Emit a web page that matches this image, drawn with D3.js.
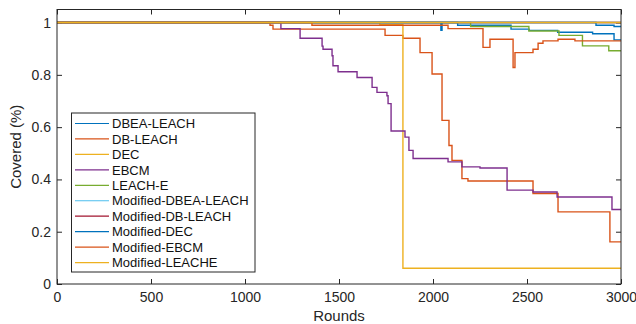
<!DOCTYPE html>
<html>
<head>
<meta charset="utf-8">
<script src="https://cdn.jsdelivr.net/npm/d3@7"></script>
<style>
  body { margin: 0; background: #fff; }
  text { font-family: "Liberation Sans", Arial, sans-serif; }
</style>
</head>
<body>
<div id="graph-container"></div>
<script>
// series: [round, covered] step points
const dbeaLeach = [[0, 1], [2131, 0.99], [2415, 0.975], [2511, 0.97], [2663, 0.963], [2849, 0.957], [2963, 0.934]];
const dbLeach = [[0, 1], [1133, 0.99], [1149, 0.975], [1745, 0.951], [1840, 0.94], [1931, 0.885], [1995, 0.803],
                 [2048, 0.626], [2085, 0.53], [2101, 0.473], [2154, 0.403], [2186, 0.394], [2532, 0.346],
                 [2665, 0.276], [2941, 0.161]];
const dec = [[0, 1], [1717, 0.992], [1840, 0.06]];
const ebcm = [[0, 1], [1191, 0.977], [1293, 0.94], [1410, 0.91], [1415, 0.898], [1463, 0.873], [1468, 0.835],
              [1495, 0.812], [1596, 0.79], [1676, 0.752], [1702, 0.733], [1755, 0.72], [1761, 0.69],
              [1777, 0.585], [1851, 0.562], [1872, 0.511], [1894, 0.48], [2080, 0.467], [2154, 0.448],
              [2250, 0.444], [2394, 0.359], [2532, 0.352], [2660, 0.333], [2952, 0.285]];
const leachE = [[0, 1], [2200, 0.985], [2510, 0.968], [2670, 0.951], [2795, 0.911], [2935, 0.892]];
const modDbeaLeach = [[0, 1]];
const modDbLeach = [[0, 1]];
const modDec = [[0, 1], [2042, 0.97], [2048, 1], [2867, 0.99], [2963, 0.985]];
const modEbcm = [[0, 1], [1356, 0.99], [2080, 0.977], [2266, 0.905], [2303, 0.936], [2426, 0.828], [2436, 0.885],
                 [2532, 0.898], [2559, 0.921], [2585, 0.93], [2665, 0.936], [2755, 0.93]];
const modLeache = [[0, 1]];

const seriesNames = ['DBEA-LEACH', 'DB-LEACH', 'DEC', 'EBCM', 'LEACH-E', 'Modified-DBEA-LEACH',
                     'Modified-DB-LEACH', 'Modified-DEC', 'Modified-EBCM', 'Modified-LEACHE'];
const seriesData = [dbeaLeach, dbLeach, dec, ebcm, leachE, modDbeaLeach, modDbLeach, modDec, modEbcm, modLeache];
const xTicks = [0, 500, 1000, 1500, 2000, 2500, 3000];
const yTicks = [0, 0.2, 0.4, 0.6, 0.8, 1];
const maxRound = 3000;

const colors = ['#0072BD', '#D95319', '#EDB120', '#7E2F8E', '#77AC30',
                '#4DBEEE', '#A2142F', '#0072BD', '#D95319', '#EDB120'];

const width = 636, height = 324;
const plotLeft = 57, plotRight = 621, plotTop = 9.5, plotBottom = 284;

const x = d3.scaleLinear().domain([0, maxRound]).range([plotLeft, plotRight]);
const y = d3.scaleLinear().domain([0, 1.05]).range([plotBottom, plotTop]);

const svg = d3.select('#graph-container')
  .append('svg')
  .attr('width', width)
  .attr('height', height);

const axisColor = '#262626';

// axes (ticks inside, like matlab)
const gx = svg.append('g')
  .attr('transform', `translate(0,${plotBottom})`)
  .call(d3.axisBottom(x).tickValues(xTicks).tickSizeInner(-5).tickSizeOuter(0).tickPadding(8)
    .tickFormat(d3.format('d')));
const gxTop = svg.append('g')
  .attr('transform', `translate(0,${plotTop})`)
  .call(d3.axisTop(x).tickValues(xTicks).tickSizeInner(-5).tickSizeOuter(0).tickFormat(''));
const gy = svg.append('g')
  .attr('transform', `translate(${plotLeft},0)`)
  .call(d3.axisLeft(y).tickValues(yTicks).tickSizeInner(-5).tickSizeOuter(0).tickPadding(6)
    .tickFormat(d => d3.format('')(+d.toFixed(1))));
const gyRight = svg.append('g')
  .attr('transform', `translate(${plotRight},0)`)
  .call(d3.axisRight(y).tickValues(yTicks).tickSizeInner(-5).tickSizeOuter(0).tickFormat(''));

[gx, gxTop, gy, gyRight].forEach(g => {
  g.select('.domain').remove();
  g.selectAll('line').attr('stroke', axisColor);
  g.selectAll('text').attr('fill', axisColor).style('font-size', '14px');
});

// lines
const line = d3.line()
  .x(d => x(d[0]))
  .y(d => y(d[1]))
  .curve(d3.curveStepAfter);

seriesData.forEach((s, i) => {
  const pts = s.concat([[maxRound, s[s.length - 1][1]]]);
  svg.append('path')
    .attr('d', line(pts))
    .attr('fill', 'none')
    .attr('stroke', colors[i])
    .attr('stroke-width', 1.4);
});

// box
svg.append('rect')
  .attr('x', plotLeft).attr('y', plotTop)
  .attr('width', plotRight - plotLeft).attr('height', plotBottom - plotTop)
  .attr('fill', 'none')
  .attr('stroke', axisColor)
  .attr('stroke-width', 1);

// axis labels
svg.append('text')
  .attr('x', (plotLeft + plotRight) / 2).attr('y', 321)
  .attr('text-anchor', 'middle')
  .attr('fill', axisColor)
  .style('font-size', '15px')
  .text('Rounds');
svg.append('text')
  .attr('transform', `translate(21,${(plotTop + plotBottom) / 2}) rotate(-90)`)
  .attr('text-anchor', 'middle')
  .attr('fill', axisColor)
  .style('font-size', '15px')
  .text('Covered (%)');

// legend
const legend = svg.append('g');
legend.append('rect')
  .attr('x', 71.5).attr('y', 113)
  .attr('width', 183.5).attr('height', 159)
  .attr('fill', '#fff')
  .attr('stroke', axisColor)
  .attr('stroke-width', 1);
seriesNames.forEach((name, i) => {
  const ly = 123.5 + i * 15.45;
  legend.append('line')
    .attr('x1', 75).attr('x2', 109)
    .attr('y1', ly).attr('y2', ly)
    .attr('stroke', colors[i])
    .attr('stroke-width', 1.2);
  legend.append('text')
    .attr('x', 112).attr('y', ly)
    .attr('dy', '0.36em')
    .attr('fill', '#111')
    .style('font-size', '13px')
    .text(name);
});
</script>
</body>
</html>
